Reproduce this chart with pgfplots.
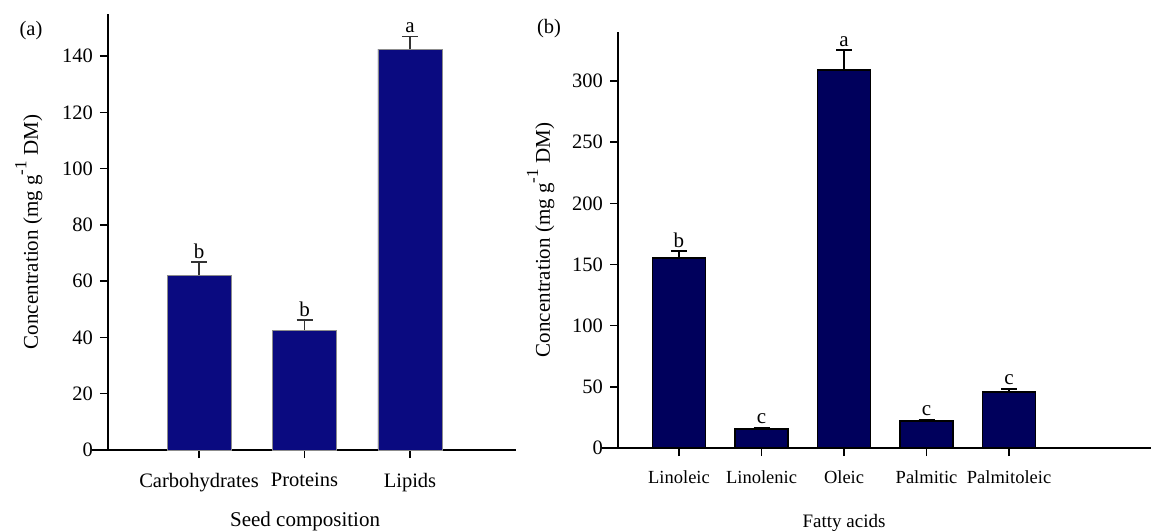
\documentclass[border=0pt]{standalone}
\usepackage{pgfplots}
\pgfplotsset{compat=1.18}
\usepackage{pgfplotstable}
\usepackage{fontspec}
\setmainfont{Liberation Serif}
\definecolor{barA}{RGB}{10,10,128}
\definecolor{barB}{RGB}{0,0,92}

\pgfplotstableread{
x y err top lab
0 62.2 4.6 66.8 b
1 42.6 3.6 46.2 b
2 142.5 4.6 147.1 a
}\seeddata

\pgfplotstableread{
x y err top lab
0 155.3 5.7 161.0 b
1 15.5 1.0 16.5 c
2 309.0 16.3 325.3 a
3 22.0 1.5 23.5 c
4 45.8 2.5 48.3 c
}\fattydata

\pgfplotsset{
  myaxis/.style={
    scale only axis,
    axis lines*=left,
    axis line style={-, line width=2.6pt},
    x axis line style={shorten <=-16pt},
    tick align=outside,
    major tick length=8pt,
    tick style={line width=1.5pt, black},
    xtick=data,
    ymin=0,
    clip=false,
    /pgf/number format/assume math mode=true,
    tick label style={font=\fontsize{20.5}{24}\selectfont},
    xticklabel style={yshift=-8pt},
    label style={font=\fontsize{21}{25}\selectfont},
    ylabel={Concentration (mg g\raisebox{0.55em}{\fontsize{17}{20}\selectfont -1} DM)},
  },
}

\begin{document}
\fontsize{20.5}{24}\selectfont
\begin{tikzpicture}
\useasboundingbox (0,0) rectangle (1151pt,530pt);
\begin{axis}[myaxis,
  at={(108pt,80pt)}, anchor=south west,
  width=408pt, height=436pt,
  xmin=-0.863, xmax=3.005,
  ymax=155,
  ytick={0,20,...,140},
  xticklabels={Carbohydrates,Proteins,Lipids},
  xlabel={Seed composition},
  xlabel style={at={(axis description cs:0.483,-0.176)}, anchor=base},
  ylabel style={at={(axis description cs:-0.172,0.5)}, anchor=base, rotate=0},
]
\addplot[ybar, bar width=64pt, fill=barA, draw=black!45, line width=0.6pt,
  error bars/.cd, y dir=plus, y explicit,
  error bar style={line width=1.2pt, black!80},
  error mark options={line width=1.2pt, black!80, mark size=8pt, rotate=90}]
  table[x=x, y=y, y error=err] {\seeddata};
\addplot[draw=none, mark=none, nodes near coords, point meta=explicit symbolic,
  nodes near coords style={anchor=south, inner sep=3.5pt, font=\fontsize{21}{24}\selectfont}]
  table[x=x, y=top, meta=lab] {\seeddata};
\end{axis}

\begin{axis}[myaxis,
  at={(618pt,82pt)}, anchor=south west,
  width=533pt, height=416pt,
  xmin=-0.739, xmax=5.72,
  ymax=340,
  ytick={0,50,...,300},
  xticklabels={Linoleic,Linolenic,Oleic,Palmitic,Palmitoleic},
  xticklabel style={font=\fontsize{18.5}{22}\selectfont},
  xlabel={Fatty acids},
  xlabel style={at={(axis description cs:0.424,-0.19)}, anchor=base, font=\fontsize{19}{23}\selectfont},
  ylabel style={at={(axis description cs:-0.128,0.5)}, anchor=base, rotate=0},
]
\addplot[ybar, bar width=53pt, fill=barB, draw=black, line width=1.5pt,
  error bars/.cd, y dir=plus, y explicit,
  error bar style={line width=1.2pt, black},
  error mark options={line width=1.2pt, black, mark size=8pt, rotate=90}]
  table[x=x, y=y, y error=err] {\fattydata};
\addplot[draw=none, mark=none, nodes near coords, point meta=explicit symbolic,
  nodes near coords style={anchor=south, inner sep=3.5pt, font=\fontsize{21}{24}\selectfont}]
  table[x=x, y=top, meta=lab] {\fattydata};
\end{axis}

\node at (31pt,499pt) {(a)};
\node at (549pt,501pt) {(b)};
\end{tikzpicture}
\end{document}
